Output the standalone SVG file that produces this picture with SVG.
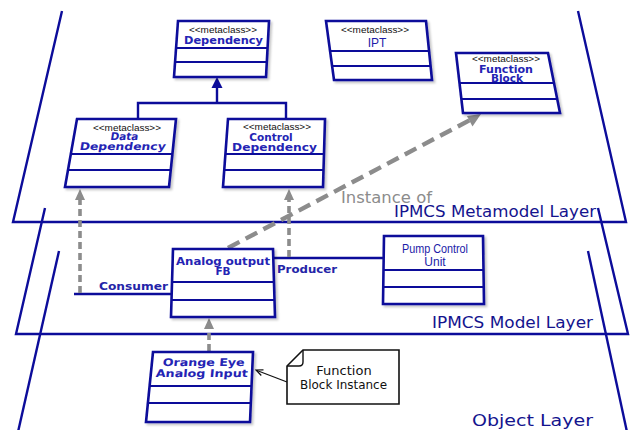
<svg xmlns="http://www.w3.org/2000/svg" width="637" height="430" viewBox="0 0 637 430">
  <style>
    .plane { fill: none; stroke: #0c0c9a; stroke-width: 2.4; stroke-linejoin: miter; }
    .box { fill: #ffffff; stroke: #0c0c9a; stroke-width: 2.6; stroke-linejoin: miter; filter: url(#shade); }
    .sep { stroke: #0c0c9a; stroke-width: 2; fill: none; }
    .stereo { font-family: "Liberation Sans", Arial, sans-serif; font-size: 9.5px; fill: #111; text-anchor: middle; }
    .title { font-family: "DejaVu Sans", Verdana, sans-serif; font-weight: bold; font-size: 10.5px; fill: #2424b4; text-anchor: middle; }
    .plain { font-family: "Liberation Sans", Arial, sans-serif; font-size: 12px; fill: #1c1ca8; text-anchor: middle; }
    .layer { font-family: "DejaVu Sans", Verdana, sans-serif; font-size: 15px; fill: #14148e; }
    .role { font-family: "DejaVu Sans", Verdana, sans-serif; font-weight: bold; font-size: 11px; fill: #2424a8; }
    .inst { font-family: "DejaVu Sans", Verdana, sans-serif; font-size: 15px; fill: #8c8c8c; }
    .note { fill: #ffffff; stroke: #111; stroke-width: 1.6; }
    .notetext { font-family: "DejaVu Sans", Verdana, sans-serif; font-size: 13px; fill: #111; text-anchor: middle; }
    .link { fill: none; stroke: #0c0c9a; stroke-width: 2.4; }
    .dash { fill: none; stroke: #8c8c8c; stroke-width: 3.6; stroke-dasharray: 7 4; }
    .dashlong { fill: none; stroke: #8c8c8c; stroke-width: 4.4; stroke-dasharray: 13 7; }
    .headgray { fill: #8c8c8c; }
    .headblue { fill: #0c0c9a; }
  </style>
  <defs>
    <filter id="shade" x="-10%" y="-10%" width="130%" height="130%">
      <feDropShadow dx="2" dy="2" stdDeviation="1.2" flood-color="#000" flood-opacity="0.22"/>
    </filter>
  </defs>

  <rect width="637" height="430" fill="#ffffff"/>

  <!-- layer planes -->
  <g id="layers">
    <polyline class="plane" points="62,11 13,222 626,222 578,11"/>
    <polyline class="plane" points="45,208 16,334 628,334 598,208"/>
    <line class="plane" x1="59" y1="251" x2="18" y2="432"/>
    <line class="plane" x1="588" y1="251" x2="627" y2="432"/>
    <text class="layer" x="394" y="217" textLength="202" lengthAdjust="spacingAndGlyphs">IPMCS Metamodel Layer</text>
    <text class="layer" x="432" y="328" textLength="161" lengthAdjust="spacingAndGlyphs">IPMCS Model Layer</text>
    <text class="layer" x="472" y="426" textLength="121" lengthAdjust="spacingAndGlyphs">Object Layer</text>
  </g>

  <!-- connectors -->
  <g id="connectors">
    <!-- generalization to Dependency -->
    <path class="link" d="M217,87 V103 M138,119 V103 H286 V119"/>
    <polygon class="headblue" points="217,77 222.5,88 211.5,88"/>
    <!-- consumer / producer links -->
    <path class="link" d="M74,294 H173"/>
    <path class="link" d="M273,258 H384"/>
    <!-- realizations -->
    <line class="dash" x1="80" y1="293" x2="80" y2="199"/>
    <polygon class="headgray" points="80,189 85,200 75,200"/>
    <line class="dash" x1="289" y1="257" x2="289" y2="199"/>
    <polygon class="headgray" points="289,189 294,200 284,200"/>
    <line class="dash" x1="209" y1="351" x2="209" y2="328"/>
    <polygon class="headgray" points="209,318 214,329 204,329"/>
    <!-- instance of -->
    <line class="dashlong" x1="228" y1="248" x2="470" y2="120"/>
    <polygon class="headgray" points="481,114 472.5,126.6 466.9,116.0"/>
    <!-- note anchor -->
    <line x1="287" y1="382" x2="257" y2="370.5" stroke="#111" stroke-width="1.2"/>
    <polyline points="263.5,369.9 256,370 261.3,375.5" fill="none" stroke="#111" stroke-width="1.2"/>
    <text class="role" x="99" y="290" textLength="69" lengthAdjust="spacingAndGlyphs">Consumer</text>
    <text class="role" x="277" y="273" textLength="60" lengthAdjust="spacingAndGlyphs">Producer</text>
    <text class="inst" x="341" y="203" textLength="91" lengthAdjust="spacingAndGlyphs">Instance of</text>
  </g>

  <!-- metamodel layer classes -->
  <g id="dependency">
    <polygon class="box" points="178,21 269,21 266,77 174,77"/>
    <line class="sep" x1="176.1" y1="48" x2="267.6" y2="48"/>
    <line class="sep" x1="175.1" y1="62" x2="266.8" y2="62"/>
    <text class="stereo" x="223" y="33" textLength="68" lengthAdjust="spacingAndGlyphs">&lt;&lt;metaclass&gt;&gt;</text>
    <text class="title" x="223.5" y="43.5" textLength="79" lengthAdjust="spacingAndGlyphs">Dependency</text>
  </g>

  <g id="ipt">
    <polygon class="box" points="326,21 426,21 432,80 334,80"/>
    <line class="sep" x1="330.1" y1="51" x2="429.1" y2="51"/>
    <line class="sep" x1="332.1" y1="66" x2="430.6" y2="66"/>
    <text class="stereo" x="375" y="33" textLength="68" lengthAdjust="spacingAndGlyphs">&lt;&lt;metaclass&gt;&gt;</text>
    <text class="plain" x="377" y="46.5" font-size="13">IPT</text>
  </g>

  <g id="function-block">
    <polygon class="box" points="456,53 548,53 560,113 463,113"/>
    <line class="sep" x1="459.5" y1="83" x2="554" y2="83"/>
    <line class="sep" x1="461.4" y1="99" x2="557.2" y2="99"/>
    <text class="stereo" x="506" y="62" textLength="68" lengthAdjust="spacingAndGlyphs">&lt;&lt;metaclass&gt;&gt;</text>
    <text class="title" x="506" y="72.5" font-size="10" textLength="54" lengthAdjust="spacingAndGlyphs">Function</text>
    <text class="title" x="507" y="82" font-size="10">Block</text>
  </g>

  <g id="data-dependency">
    <polygon class="box" points="77,119 176,119 169,187 65,187"/>
    <line class="sep" x1="70.8" y1="154" x2="172.4" y2="154"/>
    <line class="sep" x1="68" y1="170" x2="170.8" y2="170"/>
    <text class="stereo" x="127" y="130.5" textLength="68" lengthAdjust="spacingAndGlyphs">&lt;&lt;metaclass&gt;&gt;</text>
    <g transform="translate(123,145) skewX(-9)">
      <text class="title" x="0" y="-5.5">Data</text>
      <text class="title" x="0" y="5" textLength="86" lengthAdjust="spacingAndGlyphs">Dependency</text>
    </g>
  </g>

  <g id="control-dependency">
    <polygon class="box" points="228,119 325,119 323,187 223,187"/>
    <line class="sep" x1="225.4" y1="154" x2="324" y2="154"/>
    <line class="sep" x1="224.2" y1="170" x2="323.5" y2="170"/>
    <text class="stereo" x="277" y="130" textLength="68" lengthAdjust="spacingAndGlyphs">&lt;&lt;metaclass&gt;&gt;</text>
    <text class="title" x="271" y="140.5" font-size="10">Control</text>
    <text class="title" x="274.5" y="150.5" font-size="10" textLength="85" lengthAdjust="spacingAndGlyphs">Dependency</text>
  </g>

  <!-- model layer classes -->
  <g id="analog-output-fb">
    <polygon class="box" points="173,249 273,249 275,317 171,317"/>
    <line class="sep" x1="172" y1="282" x2="274" y2="282"/>
    <line class="sep" x1="171.5" y1="300" x2="274.5" y2="300"/>
    <text class="title" x="223" y="264.5" textLength="94" lengthAdjust="spacingAndGlyphs">Analog output</text>
    <text class="title" x="223" y="275">FB</text>
  </g>

  <g id="pump-control-unit">
    <polygon class="box" points="384,236 483,236 484,304 383,304"/>
    <line class="sep" x1="384" y1="270" x2="483.5" y2="270"/>
    <line class="sep" x1="383.5" y1="287" x2="483.7" y2="287"/>
    <text class="plain" x="435" y="253" textLength="66" lengthAdjust="spacingAndGlyphs">Pump Control</text>
    <text class="plain" x="435" y="266">Unit</text>
  </g>

  <!-- object layer -->
  <g id="orange-eye">
    <polygon class="box" points="153,352 253,352 250,422 146,422"/>
    <line class="sep" x1="149.6" y1="386" x2="251.5" y2="386"/>
    <line class="sep" x1="147.9" y1="403" x2="250.8" y2="403"/>
    <g transform="translate(203,371) skewX(-5)">
      <text class="title" x="0" y="-5" font-size="11.5" textLength="82" lengthAdjust="spacingAndGlyphs">Orange Eye</text>
      <text class="title" x="-1" y="5.5" font-size="11.5" textLength="92" lengthAdjust="spacingAndGlyphs">Analog Input</text>
    </g>
  </g>

  <g id="fb-instance-note">
    <path class="note" d="M303,350 H399 V404 H287 V366 Z"/>
    <path d="M303,350 V362 Q303,366 299,366 H287" fill="none" stroke="#111" stroke-width="1.4"/>
    <text class="notetext" x="344" y="375">Function</text>
    <text class="notetext" x="343.5" y="389" textLength="87" lengthAdjust="spacingAndGlyphs">Block Instance</text>
  </g>
</svg>
